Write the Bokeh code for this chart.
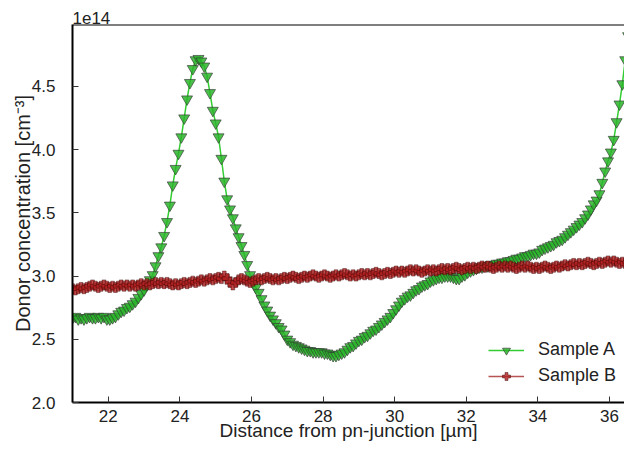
from bokeh.plotting import figure
from bokeh.models import (Range1d, FixedTicker, Span, Legend, LegendItem,
                          NumeralTickFormatter)
from bokeh.embed import file_html
from bokeh.resources import INLINE

# ---------------- data (donor concentration in units of 1e14 cm^-3) ----------------
x_um = [
    21.00, 21.08, 21.16, 21.24, 21.32, 21.40, 21.48, 21.56, 21.64, 21.72,
    21.80, 21.88, 21.96, 22.04, 22.12, 22.20, 22.28, 22.36, 22.44, 22.52,
    22.60, 22.68, 22.76, 22.84, 22.92, 23.00, 23.08, 23.16, 23.24, 23.32,
    23.40, 23.48, 23.56, 23.64, 23.72, 23.80, 23.88, 23.96, 24.04, 24.12,
    24.20, 24.28, 24.36, 24.44, 24.52, 24.60, 24.68, 24.76, 24.84, 24.92,
    25.00, 25.08, 25.16, 25.24, 25.32, 25.40, 25.48, 25.56, 25.64, 25.72,
    25.80, 25.88, 25.96, 26.04, 26.12, 26.20, 26.28, 26.36, 26.44, 26.52,
    26.60, 26.68, 26.76, 26.84, 26.92, 27.00, 27.08, 27.16, 27.24, 27.32,
    27.40, 27.48, 27.56, 27.64, 27.72, 27.80, 27.88, 27.96, 28.04, 28.12,
    28.20, 28.28, 28.36, 28.44, 28.52, 28.60, 28.68, 28.76, 28.84, 28.92,
    29.00, 29.08, 29.16, 29.24, 29.32, 29.40, 29.48, 29.56, 29.64, 29.72,
    29.80, 29.88, 29.96, 30.04, 30.12, 30.20, 30.28, 30.36, 30.44, 30.52,
    30.60, 30.68, 30.76, 30.84, 30.92, 31.00, 31.08, 31.16, 31.24, 31.32,
    31.40, 31.48, 31.56, 31.64, 31.72, 31.80, 31.88, 31.96, 32.04, 32.12,
    32.20, 32.28, 32.36, 32.44, 32.52, 32.60, 32.68, 32.76, 32.84, 32.92,
    33.00, 33.08, 33.16, 33.24, 33.32, 33.40, 33.48, 33.56, 33.64, 33.72,
    33.80, 33.88, 33.96, 34.04, 34.12, 34.20, 34.28, 34.36, 34.44, 34.52,
    34.60, 34.68, 34.76, 34.84, 34.92, 35.00, 35.08, 35.16, 35.24, 35.32,
    35.40, 35.48, 35.56, 35.64, 35.72, 35.80, 35.88, 35.96, 36.04, 36.12,
    36.20, 36.28, 36.36, 36.44, 36.52,
]

sample_a = [
    2.67, 2.68, 2.66, 2.67, 2.66, 2.67, 2.68, 2.67, 2.67, 2.68,
    2.67, 2.68, 2.66, 2.66, 2.67, 2.68, 2.70, 2.72, 2.73, 2.75,
    2.76, 2.78, 2.80, 2.83, 2.86, 2.89, 2.93, 2.97, 3.01, 3.08,
    3.16, 3.23, 3.32, 3.43, 3.56, 3.72, 3.85, 3.97, 4.10, 4.25,
    4.40, 4.53, 4.64, 4.71, 4.72, 4.70, 4.66, 4.58, 4.45, 4.31,
    4.21, 4.10, 3.93, 3.75, 3.61, 3.53, 3.46, 3.38, 3.31, 3.24,
    3.17, 3.09, 3.01, 2.95, 2.91, 2.87, 2.82, 2.77, 2.73, 2.69,
    2.66, 2.63, 2.60, 2.58, 2.54, 2.50, 2.48, 2.46, 2.45, 2.44,
    2.43, 2.42, 2.41, 2.41, 2.40, 2.40, 2.40, 2.40, 2.39, 2.39,
    2.38, 2.37, 2.37, 2.38, 2.39, 2.40, 2.42, 2.44, 2.45, 2.47,
    2.49, 2.50, 2.52, 2.53, 2.55, 2.57, 2.58, 2.60, 2.62, 2.64,
    2.66, 2.68, 2.71, 2.74, 2.77, 2.80, 2.82, 2.84, 2.85, 2.87,
    2.89, 2.90, 2.92, 2.93, 2.94, 2.96, 2.97, 2.98, 2.99, 2.99,
    3.00, 3.00, 3.00, 2.99, 2.98, 2.98, 3.00, 3.01, 3.03, 3.04,
    3.05, 3.06, 3.07, 3.07, 3.08, 3.08, 3.09, 3.09, 3.10, 3.10,
    3.11, 3.11, 3.12, 3.12, 3.13, 3.14, 3.14, 3.15, 3.16, 3.16,
    3.17, 3.18, 3.18, 3.19, 3.21, 3.22, 3.23, 3.24, 3.25, 3.27,
    3.28, 3.29, 3.31, 3.33, 3.35, 3.37, 3.39, 3.41, 3.43, 3.46,
    3.49, 3.53, 3.57, 3.60, 3.65, 3.74, 3.83, 3.91, 3.98, 4.08,
    4.22, 4.36, 4.52, 4.71, 4.90,
]

sample_b = [
    2.90, 2.89, 2.90, 2.91, 2.90, 2.91, 2.92, 2.93, 2.92, 2.91,
    2.92, 2.93, 2.92, 2.91, 2.92, 2.91, 2.92, 2.93, 2.92, 2.93,
    2.92, 2.93, 2.92, 2.93, 2.94, 2.93, 2.94, 2.93, 2.94, 2.95,
    2.94, 2.95, 2.94, 2.95, 2.94, 2.93, 2.94, 2.93, 2.94, 2.95,
    2.94, 2.95, 2.96, 2.95, 2.96, 2.97, 2.96, 2.97, 2.98, 2.97,
    2.98, 2.99, 2.98, 3.00, 2.98, 2.95, 2.93, 2.95, 2.97, 2.98,
    2.97, 2.96, 2.95, 2.96, 2.97, 2.98, 2.97, 2.98, 2.99, 2.98,
    2.97, 2.98, 2.97, 2.98, 2.99, 2.98, 2.99, 3.00, 2.99, 2.98,
    2.99, 3.00, 2.99, 3.00, 3.01, 3.00, 2.99, 3.00, 3.01, 3.00,
    2.99, 3.00, 3.01, 3.00, 3.01, 3.02, 3.01, 3.00, 3.01, 3.00,
    3.01, 3.02, 3.01, 3.02, 3.01, 3.02, 3.03, 3.02, 3.01, 3.02,
    3.03, 3.02, 3.03, 3.04, 3.03, 3.04, 3.03, 3.04, 3.05, 3.04,
    3.05, 3.04, 3.03, 3.04, 3.05, 3.04, 3.05, 3.04, 3.05, 3.06,
    3.05, 3.06, 3.05, 3.06, 3.07, 3.06, 3.05, 3.06, 3.07, 3.06,
    3.07, 3.06, 3.07, 3.08, 3.07, 3.08, 3.07, 3.06, 3.07, 3.08,
    3.07, 3.08, 3.07, 3.08, 3.07, 3.06, 3.07, 3.08, 3.07, 3.08,
    3.07, 3.06, 3.07, 3.06, 3.07, 3.08, 3.07, 3.06, 3.07, 3.08,
    3.07, 3.08, 3.09, 3.08, 3.09, 3.10, 3.09, 3.10, 3.09, 3.10,
    3.11, 3.10, 3.09, 3.10, 3.11, 3.10, 3.11, 3.12, 3.11, 3.12,
    3.11, 3.10, 3.11, 3.10, 3.11,
]

x_ticks = [22, 24, 26, 28, 30, 32, 34, 36]
y_ticks = [2.0, 2.5, 3.0, 3.5, 4.0, 4.5]
x_limits = (21.0, 36.42)
y_limits = (2.0, 4.99)
series_labels = ["Sample A", "Sample B"]

FONT = "Liberation Sans"

p = figure(width=624, height=450, output_backend="svg", toolbar_location=None,
           x_range=Range1d(*x_limits), y_range=Range1d(*y_limits),
           min_border_left=72, min_border_right=0, min_border_top=24,
           min_border_bottom=48, background_fill_color="white",
           border_fill_color="white")

p.xgrid.visible = False
p.ygrid.visible = False
p.outline_line_color = None

for ax in (p.xaxis, p.yaxis):
    ax.axis_line_color = "black"
    ax.axis_line_width = 2
    ax.major_tick_in = 6
    ax.major_tick_out = 0
    ax.minor_tick_line_color = None
    ax.major_tick_line_color = "#333333"
    ax.major_tick_line_width = 1
    ax.major_label_text_font = FONT
    ax.major_label_text_font_size = "17px"
    ax.major_label_text_color = "#222222"
    ax.axis_label_text_font = FONT
    ax.axis_label_text_font_size = "19px"
    ax.axis_label_text_font_style = "normal"
    ax.axis_label_text_color = "#222222"

p.yaxis.axis_label_text_font_size = "20px"
p.xaxis.ticker = FixedTicker(ticks=x_ticks, minor_ticks=[])
p.yaxis.ticker = FixedTicker(ticks=y_ticks, minor_ticks=[])
p.xaxis.formatter = NumeralTickFormatter(format="0")
p.yaxis.formatter = NumeralTickFormatter(format="0.0")
p.xaxis.major_label_standoff = 7
p.yaxis.major_label_standoff = 17
p.xaxis.axis_label = "Distance from pn-junction [µm]"
p.yaxis.axis_label = "Donor concentration [cm⁻³]"
p.xaxis.axis_label_standoff = -5
p.yaxis.axis_label_standoff = -5

# top spine
p.add_layout(Span(location=y_limits[1], dimension="width",
                  line_color="black", line_width=2))

# offset text
p.title.text = "1e14"
p.title.align = "left"
p.title.text_font = FONT
p.title.text_font_size = "17px"
p.title.text_font_style = "normal"
p.title.text_color = "#222222"
p.title.standoff = 2
p.title.offset = 0

la = p.line(x_um, sample_a, line_color="#33cc33", line_width=1.5)
sa = p.scatter(x_um, sample_a, marker="inverted_triangle", size=11,
               fill_color="#2ab52a", fill_alpha=0.85,
               line_color="#333333", line_alpha=0.8, line_width=0.8)
lb = p.line(x_um, sample_b, line_color="#a52a2a", line_width=1.5, line_alpha=0.8)
sb = p.scatter(x_um, sample_b, marker="plus", size=10,
               fill_color="#b22222", fill_alpha=0.8,
               line_color="#330000", line_alpha=0.7, line_width=0.6)

legend = Legend(items=[LegendItem(label=series_labels[0], renderers=[la, sa]),
                       LegendItem(label=series_labels[1], renderers=[lb, sb])],
                location=(416, 16), border_line_color=None,
                background_fill_alpha=0, padding=0, margin=0, spacing=5,
                glyph_width=36, glyph_height=20, label_standoff=14,
                label_text_font=FONT, label_text_font_size="18px",
                label_text_color="#222222")
p.add_layout(legend)

open("out.html", "w").write(file_html(p, INLINE))
